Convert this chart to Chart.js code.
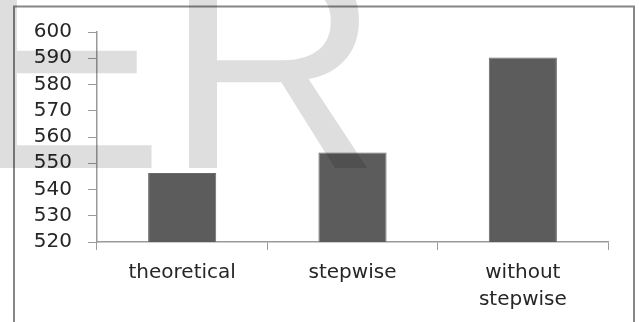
<!DOCTYPE html>
<html>
<head>
<meta charset="utf-8">
<script src="https://cdn.jsdelivr.net/npm/chart.js@4/dist/chart.umd.min.js"></script>
<style>
  html, body { margin: 0; padding: 0; background: #ffffff; }
  #wrap { width: 639px; height: 322px; position: relative; }
</style>
</head>
<body>
<div id="wrap"><canvas id="c" width="639" height="322"></canvas></div>
<script>
// Categories and values
const categories = ['theoretical', 'stepwise', ['without', 'stepwise']];
const values = [546.3, 554.1, 590.3];
const yMin = 520;
const yMax = 600;
const yStep = 10;

const FONT = '"DejaVu Sans", "Open Sans", sans-serif';

// Outer frame of the figure
const framePlugin = {
  id: 'frame',
  beforeDraw(chart) {
    const ctx = chart.ctx;
    ctx.save();
    ctx.fillStyle = '#ffffff';
    ctx.fillRect(0, 0, chart.width, chart.height);
    ctx.strokeStyle = '#868686';
    ctx.lineWidth = 2;
    ctx.beginPath();
    ctx.moveTo(14, chart.height + 2);
    ctx.lineTo(14, 6.5);
    ctx.lineTo(634, 6.5);
    ctx.lineTo(634, chart.height + 2);
    ctx.stroke();
    ctx.restore();
  }
};

// Large pale lettering laid over the figure
const stampPlugin = {
  id: 'stamp',
  afterDraw(chart) {
    const ctx = chart.ctx;
    ctx.save();
    ctx.globalCompositeOperation = 'multiply';
    ctx.fillStyle = '#dedede';
    ctx.font = '300px "Liberation Sans", Arial, sans-serif';
    ctx.textBaseline = 'alphabetic';
    ctx.textAlign = 'left';
    ctx.fillText('ER', -35.7, 168);
    ctx.restore();
  }
};

new Chart(document.getElementById('c'), {
  type: 'bar',
  data: {
    labels: categories,
    datasets: [{
      data: values,
      backgroundColor: '#5c5c5c',
      borderColor: '#6a6a6a',
      borderWidth: 1,
      categoryPercentage: 1.0,
      barPercentage: 0.4
    }]
  },
  options: {
    responsive: false,
    animation: false,
    devicePixelRatio: 1,
    layout: { padding: { left: 0, top: 32, right: 31, bottom: 0 } },
    plugins: {
      legend: { display: false },
      tooltip: { enabled: false }
    },
    scales: {
      x: {
        grid: {
          display: true,
          offset: true,
          drawOnChartArea: false,
          drawTicks: true,
          tickLength: 8,
          color: '#9a9a9a'
        },
        border: { display: true, color: '#9a9a9a', width: 1.5 },
        ticks: {
          color: '#262626',
          font: { family: FONT, size: 20, lineHeight: 1.35 },
          padding: 9,
          maxRotation: 0,
          autoSkip: false
        },
        afterFit(scale) { scale.height = 80; }
      },
      y: {
        min: yMin,
        max: yMax,
        grid: {
          display: true,
          drawOnChartArea: false,
          drawTicks: true,
          tickLength: 9,
          color: '#9a9a9a'
        },
        border: { display: true, color: '#9a9a9a', width: 1.5 },
        ticks: {
          stepSize: yStep,
          autoSkip: false,
          color: '#262626',
          font: { family: FONT, size: 20 },
          padding: 16
        },
        afterFit(scale) { scale.width = 97; }
      }
    }
  },
  plugins: [framePlugin, stampPlugin]
});
</script>
</body>
</html>
